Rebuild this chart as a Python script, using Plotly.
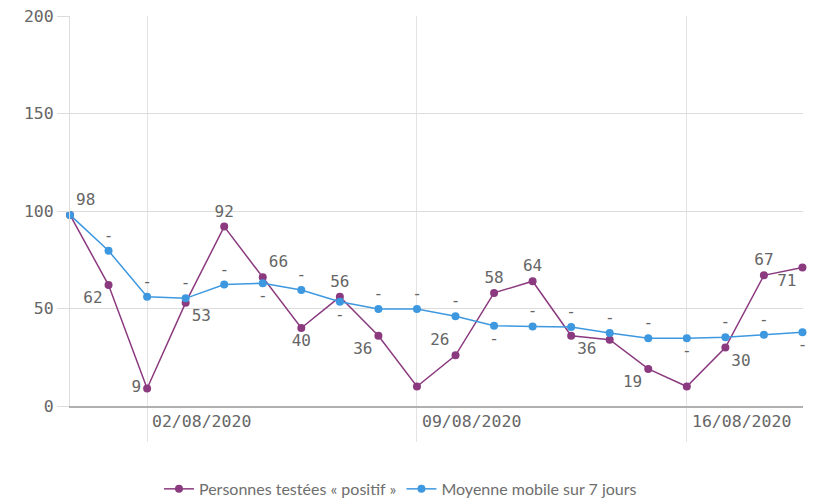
import plotly.graph_objects as go

dates = ["2020-07-31", "2020-08-01", "2020-08-02", "2020-08-03", "2020-08-04",
         "2020-08-05", "2020-08-06", "2020-08-07", "2020-08-08", "2020-08-09",
         "2020-08-10", "2020-08-11", "2020-08-12", "2020-08-13", "2020-08-14",
         "2020-08-15", "2020-08-16", "2020-08-17", "2020-08-18", "2020-08-19"]
positifs = [98, 62, 9, 53, 92, 66, 40, 56, 36, 10, 26, 58, 64, 36, 34, 19, 10, 30, 67, 71]
positifs_labels = ["98", "62", "9", "53", "92", "66", "40", "56", "36", "",
                   "26", "58", "64", "36", "", "19", "", "30", "67", "71"]
moyenne = [98, 79.6, 56, 55.2, 62.3, 63, 59.5, 53.5, 49.7, 49.7,
           46, 41.2, 40.8, 40.5, 37.4, 34.8, 34.8, 35.3, 36.5, 37.8]
moyenne_labels = [""] + ["-"] * 19
week_ticks = ["2020-08-02", "2020-08-09", "2020-08-16"]
week_labels = ["02/08/2020", "09/08/2020", "16/08/2020"]

PURPLE = "#8b3a7f"
BLUE = "#3d98e0"
MONO = "DejaVu Sans Mono"
GREY_TXT = "#666666"

pos_textpos = ["top right", "bottom left", "middle left", "bottom right", "top center",
               "top right", "bottom center", "top center", "bottom left", "top center",
               "top left", "top center", "top center", "bottom right", "top center",
               "bottom left", "top center", "bottom right", "top center", "bottom left"]
moy_textpos = ["top center", "top center", "top center", "top center", "top center",
               "bottom center", "top center", "bottom center", "top center", "top center",
               "top center", "bottom center", "top center", "top center", "top center",
               "top center", "bottom center", "top center", "top center", "bottom center"]

fig = go.Figure()
fig.add_trace(go.Scatter(
    x=dates, y=positifs, mode="lines+markers+text", name="Personnes testées « positif »",
    line={"color": PURPLE, "width": 1.5}, marker={"color": PURPLE, "size": 8},
    text=positifs_labels, textposition=pos_textpos,
    textfont={"family": MONO, "size": 16, "color": GREY_TXT},
    cliponaxis=False,
))
fig.add_trace(go.Scatter(
    x=dates, y=moyenne, mode="lines+markers+text", name="Moyenne mobile sur 7 jours",
    line={"color": BLUE, "width": 1.5}, marker={"color": BLUE, "size": 8},
    text=moyenne_labels, textposition=moy_textpos,
    textfont={"family": MONO, "size": 16, "color": GREY_TXT},
    cliponaxis=False,
))

# date labels sit to the right of their gridline, Qlik style
for d, lab in zip(week_ticks, week_labels):
    fig.add_annotation(x=d, xref="x", y=0, yref="paper", text=lab, showarrow=False,
                       xanchor="left", yanchor="top", xshift=3, yshift=-4,
                       font={"family": MONO, "size": 16.5, "color": GREY_TXT})

fig.update_xaxes(
    type="date", range=[dates[0], "2020-08-19 00:20"], tickvals=week_ticks, showticklabels=False,
    showgrid=True, gridcolor="#e3e3e3", gridwidth=1, automargin=False,
    ticks="outside", ticklen=34, tickcolor="#e3e3e3", tickwidth=1,
    showline=True, linecolor="#b0b0b0", linewidth=1.5, zeroline=False,
)
fig.update_yaxes(
    range=[0, 200], dtick=50, showgrid=True, gridcolor="#dcdcdc", gridwidth=1,
    ticks="outside", ticklen=12, tickcolor="#dcdcdc", zeroline=False, automargin=False,
    showline=True, linecolor="#dcdcdc", linewidth=1,
    tickfont={"family": MONO, "size": 16.5, "color": GREY_TXT},
)
fig.update_layout(
    width=814, height=502, plot_bgcolor="white", paper_bgcolor="white",
    margin={"l": 70, "r": 11, "t": 16, "b": 96, "autoexpand": False},
    showlegend=True,
    legend={"orientation": "h", "xref": "container", "yref": "container",
            "x": 0.492, "y": 0.026, "xanchor": "center", "yanchor": "middle",
            "font": {"family": "Lato", "size": 16, "color": "#6e6e6e"},
            "itemwidth": 30, "tracegroupgap": 0},
)
# the page body has an 8px default margin; drop it so the figure fills the window
fig.write_html("out.html", config={"displayModeBar": False},
               post_script="document.body.style.margin='0';")
